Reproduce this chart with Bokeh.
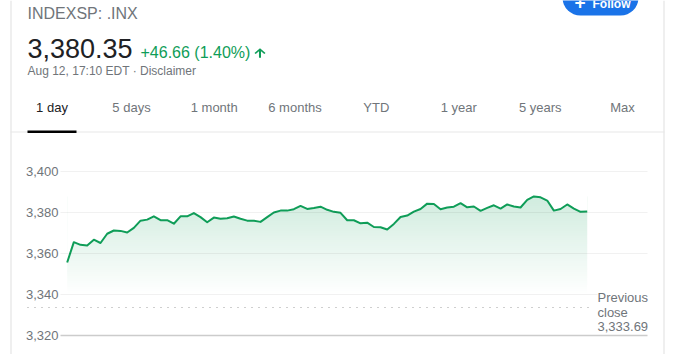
import numpy as np
from bokeh.plotting import figure
from bokeh.models import (Range1d, FixedTicker, Label, BoxAnnotation, PolyAnnotation,
                          NumeralTickFormatter, Grid)
from bokeh.embed import file_html
from bokeh.resources import INLINE

# ---------------- data ----------------
symbol = "INDEXSP: .INX"
last_price = "3,380.35"
change_text = "+46.66 (1.40%)"
timestamp = "Aug 12, 17:10 EDT · Disclaimer"
tabs = ["1 day", "5 days", "1 month", "6 months", "YTD", "1 year", "5 years", "Max"]
y_ticks = [3320, 3340, 3360, 3380, 3400]
previous_close = 3333.69
previous_close_label = "3,333.69"
# 5-minute closes, 9:30 -> 16:00
prices = [
    3355.5, 3365.4, 3364.1, 3363.8, 3366.6, 3365.0, 3369.5, 3371.1, 3370.9, 3370.1,
    3372.4, 3375.9, 3376.4, 3378.0, 3376.1, 3376.1, 3374.4, 3378.0, 3378.0, 3379.6,
    3377.6, 3375.1, 3377.4, 3376.8, 3377.1, 3377.9, 3376.8, 3375.9, 3375.9, 3375.3,
    3377.6, 3379.9, 3380.8, 3380.8, 3381.5, 3383.1, 3381.6, 3382.1, 3382.7, 3381.2,
    3380.2, 3379.7, 3376.1, 3376.1, 3374.6, 3374.9, 3372.8, 3372.7, 3371.6, 3374.3,
    3377.7, 3378.4, 3380.3, 3381.6, 3384.2, 3384.0, 3381.5, 3382.3, 3382.7, 3384.4,
    3382.4, 3382.8, 3380.7, 3382.1, 3383.4, 3381.8, 3383.8, 3382.8, 3382.3, 3386.0,
    3387.7, 3387.3, 3385.7, 3380.8, 3381.6, 3383.8, 3381.8, 3380.2, 3380.35,
]

# ---------------- style / layout ----------------
GREEN = "#0f9d58"
GREY_TXT = "#70757a"
DARK_TXT = "#202124"
FONT = "Liberation Sans"
W, H = 675, 354
BASE_FIX = 0.42   # label baseline correction (fraction of font size)

# time axis: one slot per 5 minutes; plot area spans slot -1 .. 87
X_START, X_END = -10.0, 91.24
PLOT_LEFT, PLOT_RIGHT = -1.0, 87.05
DOT_LEFT, DOT_RIGHT = -5.95, 78.9

p = figure(width=W, height=H, output_backend="svg", toolbar_location=None, tools="",
           title=None, x_axis_location=None,
           x_range=Range1d(X_START, X_END), y_range=Range1d(3310.6, 3483.3),
           min_border_left=0, min_border_right=0, min_border_top=0, min_border_bottom=0)
p.outline_line_color = None
p.background_fill_color = "white"
p.border_fill_color = "white"

yax = p.yaxis[0]
yax.fixed_location = PLOT_LEFT
yax.ticker = FixedTicker(ticks=y_ticks)
yax.formatter = NumeralTickFormatter(format="0,0")
yax.axis_line_color = None
yax.major_tick_line_color = None
yax.minor_tick_line_color = None
yax.major_tick_out = 0
yax.major_tick_in = 0
yax.major_label_standoff = 2
yax.major_label_text_font = FONT
yax.major_label_text_font_size = "13px"
yax.major_label_text_color = GREY_TXT

p.xgrid.visible = False
p.ygrid.visible = False

HAS_CB = "cross_bounds" in Grid.properties()


def hline(loc, color, width, alpha=1.0, dash="solid", x0=PLOT_LEFT, x1=PLOT_RIGHT):
    locs = [float(v) for v in np.atleast_1d(loc)]
    if HAS_CB:
        g = Grid(dimension=1, ticker=FixedTicker(ticks=locs), level="guide",
                 grid_line_color=color, grid_line_width=width, grid_line_alpha=alpha,
                 grid_line_dash=dash, cross_bounds=(x0, x1))
        p.add_layout(g)
    else:
        for l in locs:
            p.segment(x0=[x0], x1=[x1], y0=[l], y1=[l], line_color=color, line_alpha=alpha,
                      line_width=width, line_dash=dash, level="guide")


# gradient area: vertical gradient image, masked above the price line
x = np.arange(len(prices))
pr = np.array(prices, dtype=float)
fill_base = 3340.0
top = pr.max()
top_alpha = 0.20
rows = 240
img = np.zeros((rows, 1), dtype=np.uint32)
view = img.view(dtype=np.uint8).reshape((rows, 1, 4))
view[:, 0, 0] = 15
view[:, 0, 1] = 157
view[:, 0, 2] = 88
view[:, 0, 3] = np.round(np.linspace(0.0, top_alpha, rows) * 255).astype(np.uint8)
p.image_rgba(image=[img], x=0, y=fill_base, dw=len(prices) - 1, dh=top - fill_base)
p.varea(x=x, y1=pr, y2=np.full_like(pr, top + 0.5), fill_color="white", fill_alpha=1)

p.line(x, pr, line_color=GREEN, line_width=2, line_join="round")

hline(y_ticks[1:], "#000000", 1, alpha=0.055)
hline(y_ticks[0], "#cccccc", 1.5)
hline(previous_close, "#9e9e9e", 1, dash="1 6", x0=DOT_LEFT, x1=DOT_RIGHT)


def label(text, cx, cy, size, color, align="left", bold=False, bg=None, font=FONT):
    lab = Label(x=cx, y=H - cy + BASE_FIX * size, x_units="screen", y_units="screen",
                text=text, text_font=font, text_font_size=f"{size}px", text_color=color,
                text_align=align, text_baseline="alphabetic",
                text_font_style="bold" if bold else "normal")
    if bg is not None:
        lab.background_fill_color = bg
    p.add_layout(lab)
    return lab


def box(x0, x1, y0, y1, color, radius=0):
    b = BoxAnnotation(left=x0, right=x1, top=H - y0, bottom=H - y1,
                      left_units="screen", right_units="screen",
                      top_units="screen", bottom_units="screen",
                      fill_color=color, fill_alpha=1, line_color=None,
                      border_radius=radius)
    p.add_layout(b)
    return b


# page decorations
box(10, 11, 0, H, "#e0e0e0")
box(663, 664, 0, H, "#e0e0e0")
box(10, 664, 131, 132, "#e8e8e8")
box(27, 76, 130, 132.5, "#000000")

# follow button
box(562, 638, -22, 15, "#1a73e8", radius=18)
label("+", 579.5, 10, 19, "white", align="center", bold=True)
label("Follow", 592, 8.5, 12, "white", bold=True)

# header
label(symbol, 27, 19.3, 16, GREY_TXT)
label(last_price, 27, 59.3, 27, DARK_TXT)
label(change_text, 140, 58.5, 16, GREEN)
label(timestamp, 27, 76, 12, GREY_TXT)

# up arrow icon (24-unit icon grid)
arrow_u = [12, 20, 18.2, 13.5, 13.5, 10.5, 10.5, 5.8, 4]
arrow_v = [4, 12, 13.8, 9.2, 20, 20, 9.2, 13.8, 12]
AX, AY, SXA, SYA = 259.5, 47.7, 0.69, 0.60
p.add_layout(PolyAnnotation(
    xs=[AX + (u - 12) * SXA for u in arrow_u],
    ys=[H - (AY + (v - 4) * SYA) for v in arrow_v],
    xs_units="screen", ys_units="screen",
    fill_color=GREEN, fill_alpha=1, line_color=None))

tab_centers = [51.5, 131, 213.7, 294.5, 375.8, 458.2, 539.8, 622]
for t, c in zip(tabs, tab_centers):
    label(t, c, 112.5, 13, DARK_TXT if t == tabs[0] else GREY_TXT, align="center")

# previous close label
label("Previous", 597, 302.7, 13, GREY_TXT, bg="white")
label("close", 597, 317.3, 13, GREY_TXT, bg="white")
label(previous_close_label, 597, 331.7, 13, GREY_TXT)

open("out.html", "w").write(file_html(p, INLINE))
